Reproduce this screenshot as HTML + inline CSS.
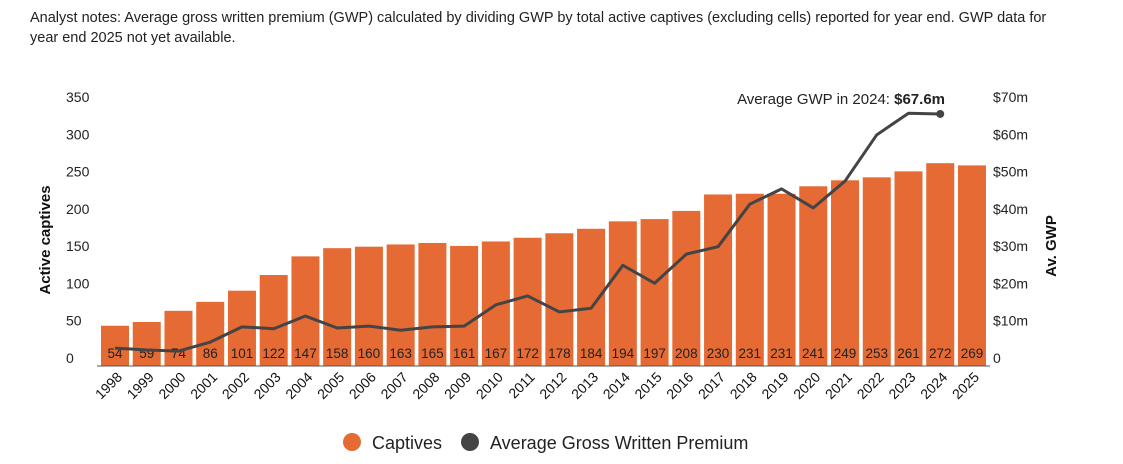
<!DOCTYPE html>
<html><head><meta charset="utf-8"><style>
body{margin:0;background:#fff;font-family:"Liberation Sans",sans-serif;}
#wrap{position:relative;width:1123px;height:464px;overflow:hidden}
#note{position:absolute;left:30px;top:8px;width:1020px;font-size:14.5px;line-height:20px;color:#222}
</style></head><body>
<div id="wrap">
<div id="note">Analyst notes: Average gross written premium (GWP) calculated by dividing GWP by total active captives (excluding cells) reported for year end. GWP data for year end 2025 not yet available.</div>
<svg id="chart" width="1123" height="464" style="position:absolute;left:0;top:0"></svg>
</div>
<script>
const years=["1998","1999","2000","2001","2002","2003","2004","2005","2006","2007","2008","2009","2010","2011","2012","2013","2014","2015","2016","2017","2018","2019","2020","2021","2022","2023","2024","2025"];
const captives=[54,59,74,86,101,122,147,158,160,163,165,161,167,172,178,184,194,197,208,230,231,231,241,249,253,261,272,269];
const gwp=[4.8,4.3,4.0,6.4,10.5,10.0,13.4,10.2,10.7,9.6,10.5,10.7,16.4,18.8,14.5,15.5,27.0,22.2,30.0,32.0,43.4,47.5,42.4,49.6,62.0,67.8,67.6];
const leftTicks=[0,50,100,150,200,250,300,350];
const rightTicks=["0","$10m","$20m","$30m","$40m","$50m","$60m","$70m"];
const NS="http://www.w3.org/2000/svg";
const svg=document.getElementById('chart');
const y0=366,pxPer=261/350;
const yL=v=>y0-v*pxPer;
const yR=v=>y0-v*5*pxPer;
const xC=i=>115+i*31.74;
function mk(t,a,txt){const e=document.createElementNS(NS,t);for(const k in a)e.setAttribute(k,a[k]);if(txt!==undefined)e.textContent=txt;svg.appendChild(e);return e;}
captives.forEach((v,i)=>{
 const r=mk('rect',{x:xC(i)-14,y:yL(v),width:28,height:v*pxPer,fill:'#e56a34'});
 
 
 const t=mk('text',{x:xC(i),y:358,'text-anchor':'middle','font-size':13.5,fill:'#222'},v);
 
 
 const yl=mk('text',{x:0,y:0,'text-anchor':'end','font-size':14,fill:'#111',transform:`translate(${xC(i)+8},${378}) rotate(-45)`},years[i]);
 
 
});
const ax=mk('line',{x1:97,x2:990,y1:y0,y2:y0,stroke:'#555','stroke-width':1});


leftTicks.forEach((v,i)=>{
 const t=mk('text',{x:66,y:yL(v)-3,'font-size':14,fill:'#222'},v);
 
 
 const r=mk('text',{x:993,y:yL(v)-3,'font-size':14,fill:'#222'},rightTicks[i]);
 
 
});
const pts=gwp.map((v,i)=>xC(i)+','+yR(v)).join(' ');
const ln=mk('polyline',{points:pts,fill:'none',stroke:'#444','stroke-width':3,'stroke-linejoin':'round'});


const last=gwp.length-1;
const dot=mk('circle',{cx:xC(last),cy:yR(gwp[last]),r:4,fill:'#444'});


const ann=mk('text',{x:945,y:104,'text-anchor':'end','font-size':15,fill:'#222'});


ann.innerHTML='Average GWP in 2024: <tspan font-weight="bold">$'+gwp[last].toFixed(1)+'m</tspan>';
const lt=mk('text',{x:0,y:0,'text-anchor':'middle','font-size':15,'font-weight':'bold',fill:'#111',transform:'translate(50,240) rotate(-90)'},'Active captives');


const rt=mk('text',{x:0,y:0,'text-anchor':'middle','font-size':15,'font-weight':'bold',fill:'#111',transform:'translate(1056,246) rotate(-90)'},'Av. GWP');


const c1=mk('circle',{cx:352,cy:442,r:9,fill:'#e56a34'});


const l1=mk('text',{x:372,y:449,'font-size':18,fill:'#222'},'Captives');


const c2=mk('circle',{cx:470,cy:442,r:9,fill:'#444'});


const l2=mk('text',{x:490,y:449,'font-size':18,fill:'#222'},'Average Gross Written Premium');


</script>
</body></html>
